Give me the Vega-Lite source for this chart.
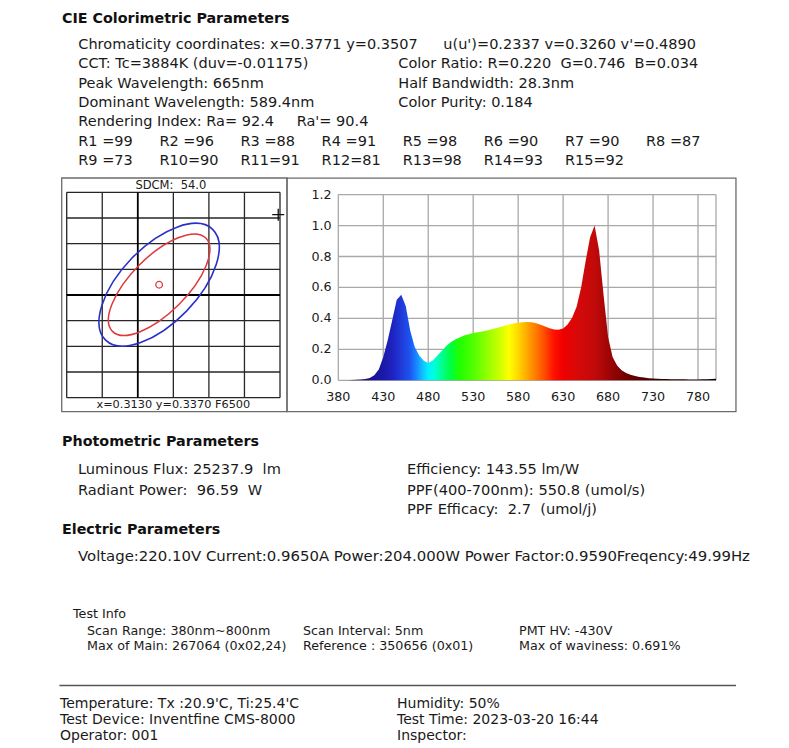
{
  "$schema": "https://vega.github.io/schema/vega-lite/v6.json",
  "width": 789,
  "height": 748,
  "padding": 0,
  "autosize": {"type": "none"},
  "background": "white",
  "config": {"view": {"stroke": null}, "text": {"font": "DejaVu Sans", "color": "#1a1a1a"}},
  "resolve": {"scale": {"x": "independent", "y": "independent"}},
  "datasets": {
    "spectrum": [
      {"wl":380,"rel":0.0},{"wl":385,"rel":0.0},{"wl":390,"rel":0.001},{"wl":395,"rel":0.002},{"wl":400,"rel":0.003},
      {"wl":405,"rel":0.005},{"wl":410,"rel":0.008},{"wl":415,"rel":0.015},{"wl":420,"rel":0.033},{"wl":425,"rel":0.07},
      {"wl":430,"rel":0.15},{"wl":435,"rel":0.26},{"wl":440,"rel":0.39},{"wl":445,"rel":0.52},{"wl":450,"rel":0.553},
      {"wl":455,"rel":0.48},{"wl":460,"rel":0.32},{"wl":465,"rel":0.215},{"wl":470,"rel":0.16},{"wl":475,"rel":0.127},
      {"wl":480,"rel":0.112},{"wl":485,"rel":0.128},{"wl":490,"rel":0.158},{"wl":495,"rel":0.19},{"wl":500,"rel":0.222},
      {"wl":505,"rel":0.246},{"wl":510,"rel":0.263},{"wl":515,"rel":0.277},{"wl":520,"rel":0.289},{"wl":525,"rel":0.298},
      {"wl":530,"rel":0.305},{"wl":535,"rel":0.311},{"wl":540,"rel":0.316},{"wl":545,"rel":0.322},{"wl":550,"rel":0.328},
      {"wl":555,"rel":0.336},{"wl":560,"rel":0.344},{"wl":565,"rel":0.352},{"wl":570,"rel":0.36},{"wl":575,"rel":0.367},
      {"wl":580,"rel":0.372},{"wl":585,"rel":0.375},{"wl":590,"rel":0.376},{"wl":595,"rel":0.375},{"wl":600,"rel":0.369},
      {"wl":605,"rel":0.359},{"wl":610,"rel":0.347},{"wl":615,"rel":0.336},{"wl":620,"rel":0.328},{"wl":625,"rel":0.326},
      {"wl":630,"rel":0.334},{"wl":635,"rel":0.36},{"wl":640,"rel":0.405},{"wl":645,"rel":0.475},{"wl":650,"rel":0.6},
      {"wl":655,"rel":0.77},{"wl":660,"rel":0.925},{"wl":665,"rel":1.0},{"wl":670,"rel":0.84},{"wl":675,"rel":0.55},
      {"wl":680,"rel":0.28},{"wl":685,"rel":0.15},{"wl":690,"rel":0.095},{"wl":695,"rel":0.065},{"wl":700,"rel":0.047},
      {"wl":705,"rel":0.036},{"wl":710,"rel":0.028},{"wl":715,"rel":0.022},{"wl":720,"rel":0.018},{"wl":725,"rel":0.014},
      {"wl":730,"rel":0.012},{"wl":735,"rel":0.01},{"wl":740,"rel":0.009},{"wl":745,"rel":0.008},{"wl":750,"rel":0.007},
      {"wl":755,"rel":0.007},{"wl":760,"rel":0.006},{"wl":765,"rel":0.006},{"wl":770,"rel":0.005},{"wl":775,"rel":0.005},
      {"wl":780,"rel":0.005},{"wl":785,"rel":0.006},{"wl":790,"rel":0.007},{"wl":795,"rel":0.008},{"wl":800,"rel":0.01}
    ],
    "rvalues": [
      {"label":"R1 =99","row":0,"col":0},{"label":"R2 =96","row":0,"col":1},{"label":"R3 =88","row":0,"col":2},
      {"label":"R4 =91","row":0,"col":3},{"label":"R5 =98","row":0,"col":4},{"label":"R6 =90","row":0,"col":5},
      {"label":"R7 =90","row":0,"col":6},{"label":"R8 =87","row":0,"col":7},
      {"label":"R9 =73","row":1,"col":0},{"label":"R10=90","row":1,"col":1},{"label":"R11=91","row":1,"col":2},
      {"label":"R12=81","row":1,"col":3},{"label":"R13=98","row":1,"col":4},{"label":"R14=93","row":1,"col":5},
      {"label":"R15=92","row":1,"col":6}
    ]
  },
  "layer": [
    {
      "data": {"values": [{}]},
      "mark": {"type": "rect", "filled": false, "color": "#6b6b6b", "strokeWidth": 1.3},
      "encoding": {
        "x": {"datum": -0.14, "type": "quantitative", "scale": {"domain": [0, 6], "range": [66.7, 280], "nice": false, "zero": false}, "axis": null},
        "x2": {"datum": 6.197},
        "y": {"datum": -0.545, "type": "quantitative", "scale": {"domain": [0, 8], "range": [397.7, 192.3], "nice": false, "zero": false}, "axis": null},
        "y2": {"datum": 8.557}
      }
    },
    {
      "data": {"values": [{}]},
      "mark": {"type": "rect", "filled": false, "color": "#6b6b6b", "strokeWidth": 1.3},
      "encoding": {
        "x": {"datum": 322.96, "type": "quantitative", "scale": {"domain": [380, 800], "range": [338.3, 716], "nice": false, "zero": false}, "axis": null},
        "x2": {"datum": 822.2},
        "y": {"datum": -0.203, "type": "quantitative", "scale": {"domain": [0, 1.2], "range": [380.3, 194.6], "nice": false, "zero": false}, "axis": null},
        "y2": {"datum": 1.307}
      }
    },
    {
      "data": {"values": [{"v":0},{"v":1},{"v":3},{"v":4},{"v":5},{"v":6}]},
      "mark": {"type": "rule", "color": "#262626", "strokeWidth": 1.3},
      "encoding": {
        "x": {"field": "v", "type": "quantitative", "scale": {"domain": [0, 6], "range": [66.7, 280], "nice": false, "zero": false}, "axis": null},
        "y": {"datum": 0, "type": "quantitative", "scale": {"domain": [0, 8], "range": [397.7, 192.3], "nice": false, "zero": false}, "axis": null},
        "y2": {"datum": 8}
      }
    },
    {
      "data": {"values": [{"h":0},{"h":1},{"h":2},{"h":3},{"h":5},{"h":6},{"h":7},{"h":8}]},
      "mark": {"type": "rule", "color": "#262626", "strokeWidth": 1.3},
      "encoding": {
        "y": {"field": "h", "type": "quantitative", "scale": {"domain": [0, 8], "range": [397.7, 192.3], "nice": false, "zero": false}, "axis": null},
        "x": {"datum": 0, "type": "quantitative", "scale": {"domain": [0, 6], "range": [66.7, 280], "nice": false, "zero": false}, "axis": null},
        "x2": {"datum": 6}
      }
    },
    {
      "data": {"values": [{"v":2}]},
      "mark": {"type": "rule", "color": "#000000", "strokeWidth": 1.8},
      "encoding": {
        "x": {"field": "v", "type": "quantitative", "scale": {"domain": [0, 6], "range": [66.7, 280], "nice": false, "zero": false}, "axis": null},
        "y": {"datum": 0, "type": "quantitative", "scale": {"domain": [0, 8], "range": [397.7, 192.3], "nice": false, "zero": false}, "axis": null},
        "y2": {"datum": 8}
      }
    },
    {
      "data": {"values": [{"h":4}]},
      "mark": {"type": "rule", "color": "#000000", "strokeWidth": 1.8},
      "encoding": {
        "y": {"field": "h", "type": "quantitative", "scale": {"domain": [0, 8], "range": [397.7, 192.3], "nice": false, "zero": false}, "axis": null},
        "x": {"datum": 0, "type": "quantitative", "scale": {"domain": [0, 6], "range": [66.7, 280], "nice": false, "zero": false}, "axis": null},
        "x2": {"datum": 6}
      }
    },
    {
      "data": {"values": [{"cx": 2.6, "cy": 4.4}]},
      "mark": {"type": "point", "shape": "M-1,0A1,0.494,0,1,1,1,0A1,0.494,0,1,1,-1,0Z", "size": 23716, "angle": 314, "filled": false, "stroke": "#2a2fc8", "strokeWidth": 1.6, "opacity": 1},
      "encoding": {
        "x": {"field": "cx", "type": "quantitative", "scale": {"domain": [0, 6], "range": [66.7, 280], "nice": false, "zero": false}, "axis": null},
        "y": {"field": "cy", "type": "quantitative", "scale": {"domain": [0, 8], "range": [397.7, 192.3], "nice": false, "zero": false}, "axis": null}
      }
    },
    {
      "data": {"values": [{"cx": 2.6, "cy": 4.4}]},
      "mark": {"type": "point", "shape": "M-1,0A1,0.424,0,1,1,1,0A1,0.424,0,1,1,-1,0Z", "size": 17424, "angle": 315, "filled": false, "stroke": "#e0383a", "strokeWidth": 1.5, "opacity": 1},
      "encoding": {
        "x": {"field": "cx", "type": "quantitative", "scale": {"domain": [0, 6], "range": [66.7, 280], "nice": false, "zero": false}, "axis": null},
        "y": {"field": "cy", "type": "quantitative", "scale": {"domain": [0, 8], "range": [397.7, 192.3], "nice": false, "zero": false}, "axis": null}
      }
    },
    {
      "data": {"values": [{"cx": 2.6, "cy": 4.4}]},
      "mark": {"type": "point", "shape": "circle", "size": 44, "filled": false, "stroke": "#e0383a", "strokeWidth": 1.3, "opacity": 1},
      "encoding": {
        "x": {"field": "cx", "type": "quantitative", "scale": {"domain": [0, 6], "range": [66.7, 280], "nice": false, "zero": false}, "axis": null},
        "y": {"field": "cy", "type": "quantitative", "scale": {"domain": [0, 8], "range": [397.7, 192.3], "nice": false, "zero": false}, "axis": null}
      }
    },
    {
      "data": {"values": [{"cx": 5.95, "cy": 7.13}]},
      "mark": {"type": "point", "shape": "M-1,0L1,0M0,-1L0,1", "size": 144, "filled": false, "stroke": "#111111", "strokeWidth": 1.3, "opacity": 1},
      "encoding": {
        "x": {"field": "cx", "type": "quantitative", "scale": {"domain": [0, 6], "range": [66.7, 280], "nice": false, "zero": false}, "axis": null},
        "y": {"field": "cy", "type": "quantitative", "scale": {"domain": [0, 8], "range": [397.7, 192.3], "nice": false, "zero": false}, "axis": null}
      }
    },
    {
      "data": {"values": [{"label": "SDCM:\u00a0\u00a054.0"}]},
      "mark": {"type": "text", "align": "center", "baseline": "alphabetic", "fontSize": 11.5, "font": "DejaVu Sans"},
      "encoding": {
        "x": {"datum": 2.93, "type": "quantitative", "scale": {"domain": [0, 6], "range": [66.7, 280], "nice": false, "zero": false}, "axis": null},
        "y": {"datum": 8.14, "type": "quantitative", "scale": {"domain": [0, 8], "range": [397.7, 192.3], "nice": false, "zero": false}, "axis": null},
        "text": {"field": "label"}
      }
    },
    {
      "data": {"values": [{"label": "x=0.3130 y=0.3370 F6500"}]},
      "mark": {"type": "text", "align": "center", "baseline": "alphabetic", "fontSize": 11.3, "font": "DejaVu Sans"},
      "encoding": {
        "x": {"datum": 3.0, "type": "quantitative", "scale": {"domain": [0, 6], "range": [66.7, 280], "nice": false, "zero": false}, "axis": null},
        "y": {"datum": -0.413, "type": "quantitative", "scale": {"domain": [0, 8], "range": [397.7, 192.3], "nice": false, "zero": false}, "axis": null},
        "text": {"field": "label"}
      }
    },
    {
      "data": {"values": [{"w":380},{"w":430},{"w":480},{"w":530},{"w":580},{"w":630},{"w":680},{"w":730},{"w":780},{"w":800}]},
      "mark": {"type": "rule", "color": "#a8a8a8", "strokeWidth": 1.3},
      "encoding": {
        "x": {"field": "w", "type": "quantitative", "scale": {"domain": [380, 800], "range": [338.3, 716], "nice": false, "zero": false}, "axis": null},
        "y": {"datum": 0, "type": "quantitative", "scale": {"domain": [0, 1.2], "range": [380.3, 194.6], "nice": false, "zero": false}, "axis": null},
        "y2": {"datum": 1.2}
      }
    },
    {
      "data": {"values": [{"r":0},{"r":0.2},{"r":0.4},{"r":0.6},{"r":0.8},{"r":1.0},{"r":1.2}]},
      "mark": {"type": "rule", "color": "#a8a8a8", "strokeWidth": 1.3},
      "encoding": {
        "y": {"field": "r", "type": "quantitative", "scale": {"domain": [0, 1.2], "range": [380.3, 194.6], "nice": false, "zero": false}, "axis": null},
        "x": {"datum": 380, "type": "quantitative", "scale": {"domain": [380, 800], "range": [338.3, 716], "nice": false, "zero": false}, "axis": null},
        "x2": {"datum": 800}
      }
    },
    {
      "data": {"name": "spectrum"},
      "mark": {
        "type": "area", "opacity": 1, "interpolate": "linear",
        "color": {
          "gradient": "linear", "x1": 0, "y1": 0, "x2": 1, "y2": 0,
          "stops": [
            {"offset": 0.0, "color": "#100030"},
            {"offset": 0.0476, "color": "#200060"},
            {"offset": 0.0833, "color": "#18108a"},
            {"offset": 0.119, "color": "#1a1aa8"},
            {"offset": 0.143, "color": "#1f22c0"},
            {"offset": 0.167, "color": "#1f3ad8"},
            {"offset": 0.19, "color": "#1d55f0"},
            {"offset": 0.207, "color": "#1888ff"},
            {"offset": 0.226, "color": "#10c8ff"},
            {"offset": 0.238, "color": "#00f0ff"},
            {"offset": 0.255, "color": "#00ffd8"},
            {"offset": 0.274, "color": "#00ff90"},
            {"offset": 0.298, "color": "#00ff40"},
            {"offset": 0.321, "color": "#20ff00"},
            {"offset": 0.357, "color": "#50ff00"},
            {"offset": 0.393, "color": "#90ff00"},
            {"offset": 0.429, "color": "#d0ff00"},
            {"offset": 0.452, "color": "#ffff00"},
            {"offset": 0.476, "color": "#ffd800"},
            {"offset": 0.5, "color": "#ffa800"},
            {"offset": 0.524, "color": "#ff7800"},
            {"offset": 0.548, "color": "#ff4800"},
            {"offset": 0.571, "color": "#ff1000"},
            {"offset": 0.595, "color": "#f00000"},
            {"offset": 0.631, "color": "#d80808"},
            {"offset": 0.679, "color": "#c00a0a"},
            {"offset": 0.714, "color": "#a00505"},
            {"offset": 0.762, "color": "#700000"},
            {"offset": 0.833, "color": "#400000"},
            {"offset": 0.952, "color": "#1a0000"},
            {"offset": 1.0, "color": "#100000"}
          ]
        }
      },
      "encoding": {
        "x": {"field": "wl", "type": "quantitative", "scale": {"domain": [380, 800], "range": [338.3, 716], "nice": false, "zero": false}, "axis": null},
        "y": {"field": "rel", "type": "quantitative", "scale": {"domain": [0, 1.2], "range": [380.3, 194.6], "nice": false, "zero": false}, "axis": null},
        "y2": {"datum": 0}
      }
    },
    {
      "data": {"values": [{"w":380},{"w":430},{"w":480},{"w":530},{"w":580},{"w":630},{"w":680},{"w":730},{"w":780}]},
      "mark": {"type": "text", "align": "center", "baseline": "middle", "fontSize": 12.7, "font": "DejaVu Sans"},
      "encoding": {
        "x": {"field": "w", "type": "quantitative", "scale": {"domain": [380, 800], "range": [338.3, 716], "nice": false, "zero": false}, "axis": null},
        "y": {"datum": -0.106, "type": "quantitative", "scale": {"domain": [0, 1.2], "range": [380.3, 194.6], "nice": false, "zero": false}, "axis": null},
        "text": {"field": "w", "format": "d"}
      }
    },
    {
      "data": {"values": [{"r":0},{"r":0.2},{"r":0.4},{"r":0.6},{"r":0.8},{"r":1.0},{"r":1.2}]},
      "mark": {"type": "text", "align": "right", "baseline": "middle", "fontSize": 12.7, "font": "DejaVu Sans"},
      "encoding": {
        "y": {"field": "r", "type": "quantitative", "scale": {"domain": [0, 1.2], "range": [380.3, 194.6], "nice": false, "zero": false}, "axis": null},
        "x": {"datum": 372.66, "type": "quantitative", "scale": {"domain": [380, 800], "range": [338.3, 716], "nice": false, "zero": false}, "axis": null},
        "text": {"field": "r", "format": ".1f"}
      }
    },
    {
      "data": {"values": [
        {"text": "CIE Colorimetric Parameters", "col": 0, "line": 0},
        {"text": "Photometric Parameters", "col": 0, "line": 1},
        {"text": "Electric Parameters", "col": 0, "line": 2}
      ]},
      "mark": {"type": "text", "align": "left", "baseline": "alphabetic", "fontSize": 14.3, "fontWeight": "bold", "font": "DejaVu Sans", "color": "#111111"},
      "encoding": {
        "x": {"field": "col", "type": "quantitative", "scale": {"domain": [0, 1], "range": [62, 100], "nice": false, "zero": false}, "axis": null},
        "y": {"field": "line", "type": "quantitative", "scale": {"domain": [0, 1, 2], "range": [22.5, 446.1, 534.1], "nice": false, "zero": false}, "axis": null},
        "text": {"field": "text"}
      }
    },
    {
      "data": {"values": [
        {"text": "Chromaticity coordinates: x=0.3771 y=0.3507", "line": 0, "col": 0},
        {"text": "u(u')=0.2337 v=0.3260 v'=0.4890", "line": 0, "col": 3},
        {"text": "CCT: Tc=3884K (duv=-0.01175)", "line": 1, "col": 0},
        {"text": "Color Ratio: R=0.220\u00a0\u00a0G=0.746\u00a0\u00a0B=0.034", "line": 1, "col": 2},
        {"text": "Peak Wavelength: 665nm", "line": 2, "col": 0},
        {"text": "Half Bandwidth: 28.3nm", "line": 2, "col": 2},
        {"text": "Dominant Wavelength: 589.4nm", "line": 3, "col": 0},
        {"text": "Color Purity: 0.184", "line": 3, "col": 2},
        {"text": "Rendering Index: Ra= 92.4", "line": 4, "col": 0},
        {"text": "Ra'= 90.4", "line": 4, "col": 1}
      ]},
      "mark": {"type": "text", "align": "left", "baseline": "alphabetic", "fontSize": 14.5, "font": "DejaVu Sans"},
      "encoding": {
        "x": {"field": "col", "type": "quantitative", "scale": {"domain": [0, 1, 2, 3], "range": [78.3, 296.7, 398.3, 443.3], "nice": false, "zero": false}, "axis": null},
        "y": {"field": "line", "type": "quantitative", "scale": {"domain": [0, 4], "range": [49.3, 126], "nice": false, "zero": false}, "axis": null},
        "text": {"field": "text"}
      }
    },
    {
      "data": {"name": "rvalues"},
      "mark": {"type": "text", "align": "left", "baseline": "alphabetic", "fontSize": 14.5, "font": "DejaVu Sans"},
      "encoding": {
        "x": {"field": "col", "type": "quantitative", "scale": {"domain": [0, 7], "range": [78.3, 646], "nice": false, "zero": false}, "axis": null},
        "y": {"field": "row", "type": "quantitative", "scale": {"domain": [0, 1], "range": [145.7, 165], "nice": false, "zero": false}, "axis": null},
        "text": {"field": "label"}
      }
    },
    {
      "data": {"values": [
        {"text": "Luminous Flux: 25237.9\u00a0\u00a0lm", "line": 0, "col": 0},
        {"text": "Efficiency: 143.55 lm/W", "line": 0, "col": 1},
        {"text": "Radiant Power:\u00a0\u00a096.59\u00a0\u00a0W", "line": 1, "col": 0},
        {"text": "PPF(400-700nm): 550.8 (umol/s)", "line": 1, "col": 1},
        {"text": "PPF Efficacy:\u00a0\u00a02.7\u00a0\u00a0(umol/j)", "line": 2, "col": 1}
      ]},
      "mark": {"type": "text", "align": "left", "baseline": "alphabetic", "fontSize": 14.6, "font": "DejaVu Sans"},
      "encoding": {
        "x": {"field": "col", "type": "quantitative", "scale": {"domain": [0, 1], "range": [78, 407], "nice": false, "zero": false}, "axis": null},
        "y": {"field": "line", "type": "quantitative", "scale": {"domain": [0, 1, 2], "range": [474, 495, 514], "nice": false, "zero": false}, "axis": null},
        "text": {"field": "text"}
      }
    },
    {
      "data": {"values": [
        {"text": "Voltage:220.10V Current:0.9650A Power:204.000W Power Factor:0.9590Freqency:49.99Hz", "line": 0, "col": 0}
      ]},
      "mark": {"type": "text", "align": "left", "baseline": "alphabetic", "fontSize": 14.9, "font": "DejaVu Sans"},
      "encoding": {
        "x": {"field": "col", "type": "quantitative", "scale": {"domain": [0, 1], "range": [78, 407], "nice": false, "zero": false}, "axis": null},
        "y": {"field": "line", "type": "quantitative", "scale": {"domain": [0, 1], "range": [561.2, 580], "nice": false, "zero": false}, "axis": null},
        "text": {"field": "text"}
      }
    },
    {
      "data": {"values": [
        {"text": "Test Info", "line": 0, "col": 0},
        {"text": "Scan Range: 380nm~800nm", "line": 1, "col": 1},
        {"text": "Scan Interval: 5nm", "line": 1, "col": 2},
        {"text": "PMT HV: -430V", "line": 1, "col": 3},
        {"text": "Max of Main: 267064 (0x02,24)", "line": 2, "col": 1},
        {"text": "Reference : 350656 (0x01)", "line": 2, "col": 2},
        {"text": "Max of waviness: 0.691%", "line": 2, "col": 3}
      ]},
      "mark": {"type": "text", "align": "left", "baseline": "alphabetic", "fontSize": 12.7, "font": "DejaVu Sans"},
      "encoding": {
        "x": {"field": "col", "type": "quantitative", "scale": {"domain": [0, 1, 2, 3], "range": [73, 87, 303, 519], "nice": false, "zero": false}, "axis": null},
        "y": {"field": "line", "type": "quantitative", "scale": {"domain": [0, 1, 2], "range": [617.5, 634.5, 649.5], "nice": false, "zero": false}, "axis": null},
        "text": {"field": "text"}
      }
    },
    {
      "data": {"values": [{}]},
      "mark": {"type": "rule", "color": "#555555", "strokeWidth": 1.6},
      "encoding": {
        "x": {"datum": 0, "type": "quantitative", "scale": {"domain": [0, 1], "range": [59.4, 736], "nice": false, "zero": false}, "axis": null},
        "x2": {"datum": 1},
        "y": {"datum": 0, "type": "quantitative", "scale": {"domain": [0, 1], "range": [685.5, 700], "nice": false, "zero": false}, "axis": null}
      }
    },
    {
      "data": {"values": [
        {"text": "Temperature: Tx :20.9'C, Ti:25.4'C", "line": 0, "col": 0},
        {"text": "Humidity: 50%", "line": 0, "col": 1},
        {"text": "Test Device: Inventfine CMS-8000", "line": 1, "col": 0},
        {"text": "Test Time: 2023-03-20 16:44", "line": 1, "col": 1},
        {"text": "Operator: 001", "line": 2, "col": 0},
        {"text": "Inspector:", "line": 2, "col": 1}
      ]},
      "mark": {"type": "text", "align": "left", "baseline": "alphabetic", "fontSize": 14, "font": "DejaVu Sans"},
      "encoding": {
        "x": {"field": "col", "type": "quantitative", "scale": {"domain": [0, 1], "range": [60, 397], "nice": false, "zero": false}, "axis": null},
        "y": {"field": "line", "type": "quantitative", "scale": {"domain": [0, 2], "range": [708, 740], "nice": false, "zero": false}, "axis": null},
        "text": {"field": "text"}
      }
    }
  ]
}
